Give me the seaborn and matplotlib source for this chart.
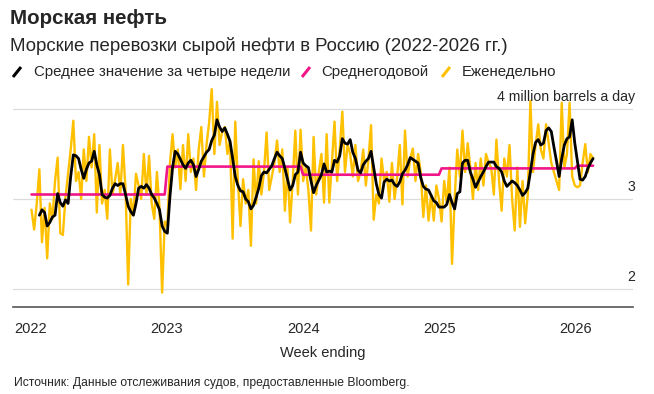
import numpy as np
import pandas as pd
import seaborn as sns
import matplotlib.pyplot as plt
from matplotlib.lines import Line2D
import matplotlib.transforms as mtransforms

nan = np.nan

# weekly seaborne crude shipments, million barrels a day
weekly_2022 = [2.88, 2.66, 2.95, 3.33, 2.52, 2.90, 2.34, 2.95, 2.78, 3.20,
               3.46, 2.62, 2.60, 3.02, 3.28, 3.55, 3.87, 3.20, 3.30, 3.00,
               3.55, 3.20, 3.69, 3.35, 3.72, 2.85, 3.60, 2.95, 3.10, 2.78,
               3.55, 3.05, 3.22, 3.40, 3.05, 3.60, 3.10, 2.05, 3.00, 2.82,
               3.28, 3.15, 3.00, 3.50, 3.05, 3.48, 2.95, 2.78, 3.30, 2.90,
               1.96, 2.75]
weekly_2023 = [2.70, 3.40, 3.72, 3.35, 3.55, 3.11, 3.60, 3.20, 3.72, 3.30,
               3.45, 3.10, 3.55, 3.80, 3.25, 3.60, 3.85, 4.22, 3.50, 4.08,
               3.60, 3.75, 3.80, 3.50, 3.65, 2.56, 3.86, 3.20, 2.70, 3.22,
               2.95, 3.10, 2.48, 3.44, 2.95, 3.42, 3.05, 3.30, 3.74, 3.10,
               3.25, 3.40, 3.65, 3.30, 3.55, 2.87, 3.35, 2.74, 3.20, 3.76,
               3.05, 3.77]
weekly_2024 = [3.20, 3.35, 3.10, 2.65, 3.69, 3.05, 3.30, 3.50, 2.96, 3.72,
               2.96, 3.40, 3.86, 3.20, 3.55, 3.97, 3.30, 3.60, 3.50, 3.25,
               3.60, 3.20, 3.30, 3.55, 3.15, 3.45, 3.82, 2.77, 3.05, 2.95,
               3.45, 3.20, 3.30, 2.97, 3.40, 3.00, 3.25, 3.60, 2.94, 3.76,
               3.25, 3.45, 3.56, 3.20, 3.50, 3.30, 2.80, 3.15, 2.76, 3.05,
               2.76, 3.15]
weekly_2025 = [3.00, 2.75, 3.20, 2.95, 3.35, 2.28, 3.00, 3.55, 3.25, 3.76,
               3.30, 3.62, 3.35, 3.00, 3.40, 3.10, 3.45, 3.15, 3.50, 3.40,
               3.35, 3.05, 3.66, 3.20, 2.87, 3.45, 3.25, 3.60, 3.00, 2.65,
               3.35, 2.69, 3.20, 2.73, 3.05, 4.09, 3.30, 3.60, 3.83, 3.55,
               3.45, 3.83, 3.62, 3.40, 3.30, 3.20, 3.10, 4.07, 3.35, 3.50,
               4.07, 3.25]
weekly_2026 = [3.15, 3.13, 3.15, 3.40, 3.61, 3.30, 3.50, 3.45]

# four-week average as drawn
avg4_2022 = [nan, nan, nan, 2.82, 2.88, 2.85, 2.70, 2.74, 2.80, 2.82,
             3.06, 2.96, 2.92, 2.99, 2.95, 3.25, 3.49, 3.48, 3.45, 3.33,
             3.23, 3.33, 3.40, 3.42, 3.53, 3.38, 3.27, 3.05, 3.02, 3.01,
             3.04, 3.12, 3.17, 3.15, 3.17, 3.17, 3.05, 2.92, 2.86, 2.82,
             2.95, 3.12, 3.14, 3.12, 3.16, 3.12, 3.05, 3.01, 2.95, 2.88,
             2.70, 2.64]
avg4_2023 = [2.62, 3.03, 3.35, 3.53, 3.50, 3.44, 3.38, 3.34, 3.40, 3.43,
             3.38, 3.25, 3.33, 3.42, 3.47, 3.52, 3.55, 3.65, 3.71, 3.88,
             3.80, 3.75, 3.79, 3.72, 3.64, 3.45, 3.25, 3.15, 3.09, 3.08,
             3.00, 2.97, 2.89, 2.93, 3.02, 3.12, 3.26, 3.30, 3.29, 3.33,
             3.37, 3.45, 3.52, 3.48, 3.45, 3.34, 3.22, 3.10, 3.15, 3.27,
             3.30, 3.52]
avg4_2024 = [3.40, 3.37, 3.35, 3.20, 3.07, 3.15, 3.21, 3.27, 3.39, 3.30,
             3.31, 3.30, 3.43, 3.41, 3.48, 3.67, 3.62, 3.61, 3.66, 3.52,
             3.45, 3.32, 3.29, 3.38, 3.42, 3.45, 3.53, 3.35, 3.17, 3.05,
             3.01, 3.19, 3.22, 3.20, 3.21, 3.16, 3.14, 3.19, 3.28, 3.32,
             3.38, 3.46, 3.44, 3.42, 3.40, 3.24, 3.14, 3.11, 3.10, 3.04,
             2.98, 2.96]
avg4_2025 = [2.91, 2.91, 2.91, 2.94, 3.05, 2.96, 2.89, 3.06, 3.08, 3.40,
             3.43, 3.43, 3.30, 3.22, 3.13, 3.19, 3.25, 3.30, 3.36, 3.41,
             3.41, 3.41, 3.36, 3.34, 3.30, 3.20, 3.14, 3.17, 3.20, 3.18,
             3.15, 3.10, 3.04, 3.07, 3.12, 3.30, 3.50, 3.63, 3.66, 3.60,
             3.62, 3.76, 3.79, 3.75, 3.58, 3.42, 3.25, 3.45, 3.60, 3.67,
             3.69, 3.88]
avg4_2026 = [3.62, 3.42, 3.22, 3.21, 3.25, 3.34, 3.40, 3.45]

years = [2022, 2023, 2024, 2025, 2026]
annual_avg = [3.05, 3.36, 3.27, 3.34, 3.37]

weekly = weekly_2022 + weekly_2023 + weekly_2024 + weekly_2025 + weekly_2026
avg4 = avg4_2022 + avg4_2023 + avg4_2024 + avg4_2025 + avg4_2026

df = pd.DataFrame({
    "week": pd.date_range("2022-01-03", periods=len(weekly), freq="7D"),
    "weekly": weekly,
    "avg4": avg4,
})
df["annual"] = df["week"].dt.year.map(dict(zip(years, annual_avg)))

YELLOW = "#FFC000"
PINK = "#F0168A"
BLACK = "#000000"

sns.set_style("white")
plt.rcParams["font.family"] = ["Liberation Sans", "DejaVu Sans"]

fig = plt.figure(figsize=(6.54, 3.94), dpi=100)
ax = fig.add_axes([12.5 / 654, 1 - 307 / 394, (633 - 12.5) / 654, (307 - 77.5) / 394])

sns.lineplot(data=df, x="week", y="weekly", ax=ax, color=YELLOW, lw=1.7, zorder=2)
sns.lineplot(data=df, x="week", y="annual", ax=ax, color=PINK, lw=1.9, zorder=3)
sns.lineplot(data=df, x="week", y="avg4", ax=ax, color=BLACK, lw=2.0, zorder=4)

ax.set_ylim(1.8, 4.35)
ax.set_xlim(pd.Timestamp("2021-11-13"), pd.Timestamp("2026-06-03"))
ax.set_yticks([])
for v in [2, 3, 4]:
    ax.axhline(v, color="#DCDCDC", lw=0.9, zorder=1)

tick_dates = [pd.Timestamp(f"{y}-01-01") for y in years]
ax.set_xticks(tick_dates)
ax.set_xticklabels([str(y) for y in years], fontsize=10.5)
ax.tick_params(axis="x", direction="out", length=4, width=1, color="#333333", pad=7)

for s in ["left", "right", "top"]:
    ax.spines[s].set_visible(False)
ax.spines["bottom"].set_color("#555555")
ax.spines["bottom"].set_linewidth(1.2)

ax.set_xlabel("Week ending", fontsize=10.5, labelpad=7)
ax.set_ylabel("")

trans = mtransforms.blended_transform_factory(ax.transAxes, ax.transData)
ax.text(1.003, 4.06, "4 million barrels a day", transform=trans, ha="right",
        va="bottom", fontsize=10.2)
ax.text(1.003, 3.06, "3", transform=trans, ha="right", va="bottom", fontsize=10.2)
ax.text(1.003, 2.06, "2", transform=trans, ha="right", va="bottom", fontsize=10.2)

fig.text(10 / 654, 1 - 18 / 394, "Морская нефть", fontsize=14.8, fontweight="bold",
         va="center", ha="left")
fig.text(10 / 654, 1 - 46 / 394, "Морские перевозки сырой нефти в Россию (2022-2026 гг.)",
         fontsize=13.4, va="center", ha="left")

legend_items = [
    (13, 34, BLACK, "Среднее значение за четыре недели"),
    (302, 321, PINK, "Среднегодовой"),
    (442, 462, YELLOW, "Еженедельно"),
]
for x0, xt, col, label in legend_items:
    fig.add_artist(Line2D([(x0) / 654, (x0 + 8) / 654],
                          [1 - 77 / 394, 1 - 67 / 394],
                          color=col, lw=2.2, solid_capstyle="butt"))
    fig.text(xt / 654, 1 - 72 / 394, label, fontsize=10.8, va="center", ha="left")

fig.text(14 / 654, 1 - 383 / 394,
         "Источник: Данные отслеживания судов, предоставленные Bloomberg.",
         fontsize=8.7, va="center", ha="left")

fig.savefig("out.png", dpi=100)
